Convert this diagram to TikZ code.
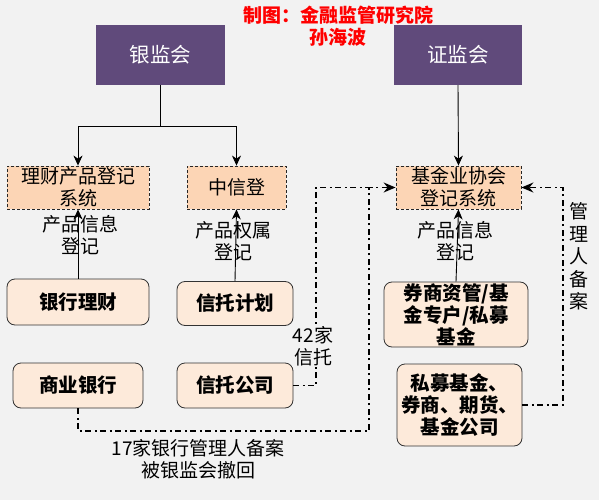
\documentclass[tikz,border=0pt]{standalone}
\usepackage{fontspec}
\setmainfont{Noto Sans CJK SC}
\usetikzlibrary{arrows.meta}
\definecolor{bg}{HTML}{F2F2F2}
\definecolor{purp}{HTML}{604A7B}
\definecolor{peach}{HTML}{FCD5B5}
\definecolor{lightpeach}{HTML}{FDEADA}
\begin{document}
\begin{tikzpicture}[x=1pt,y=-1pt,
 reg/.style={draw=none, fill=purp, text=white, inner sep=0pt, font=\fontsize{20.5}{24}\selectfont},
 sysbox/.style={draw=black!85, fill=peach, dash pattern=on 3pt off 2pt, line width=0.8pt, inner sep=0pt, align=center, font=\fontsize{19}{22}\selectfont},
 ent/.style={draw=black!80, fill=lightpeach, rounded corners=8pt, line width=0.8pt, inner sep=0pt, align=center, font=\bfseries\fontsize{19.5}{22}\selectfont},
 lbl/.style={align=center, font=\fontsize{19}{22}\selectfont, inner sep=1pt},
 solidarrow/.style={draw=black, line width=0.9pt, -{Stealth[length=10pt,width=9pt,inset=3pt]}},
 dasharrow/.style={draw=black, line width=1.6pt, dash pattern=on 6pt off 3.5pt on 2pt off 3.5pt, -{Stealth[length=12pt,width=10pt,inset=4pt]}},
 dashline/.style={draw=black, line width=1.6pt, dash pattern=on 6pt off 3.5pt on 2pt off 3.5pt},
]
\path[fill=bg, use as bounding box] (0,0) rectangle (599,500);

% title
\node[text=red, align=center, font=\bfseries\fontsize{19}{22}\selectfont, inner sep=0pt] (title) at (338,26) {制图：金融监管研究院\\孙海波};

% regulators
\node[reg, minimum width=129pt, minimum height=60pt] (yjh) at (160.5,55) {银监会};
\node[reg, minimum width=128pt, minimum height=60pt] (zjh) at (458,55) {证监会};

% registration systems
\node[sysbox, minimum width=142pt, minimum height=43pt] (lc) at (78,187.5) {理财产品登记\\系统};
\node[sysbox, minimum width=99pt, minimum height=43pt] (zxd) at (236.5,187.5) {中信登};
\node[sysbox, minimum width=125pt, minimum height=43pt] (jj) at (458.5,187.5) {基金业协会\\登记系统};

% entities
\node[ent, minimum width=142pt, minimum height=46pt] (yhlc) at (78,302) {银行理财};
\node[ent, minimum width=116pt, minimum height=44pt] (xtjh) at (235,303.5) {信托计划};
\node[ent, minimum width=130pt, minimum height=45pt] (syyh) at (78,385.5) {商业银行};
\node[ent, minimum width=116pt, minimum height=45pt] (xtgs) at (235,385.5) {信托公司};
\node[ent, minimum width=144pt, minimum height=65pt] (qs) at (456,314.5) {券商资管/基\\金专户/私募\\基金};
\node[ent, minimum width=125pt, minimum height=82pt] (sm) at (459.5,405) {私募基金、\\券商、期货、\\基金公司};

% regulator connectors
\coordinate (br) at (160.5,126);
\draw[line width=0.9pt] (yjh.south) -- (br);
\draw[solidarrow] (br) -| (lc.north);
\draw[solidarrow] (br) -| (zxd.north);
\draw[solidarrow] (zjh.south) -- (jj.north);

% product registration
\draw[solidarrow] (yhlc.north) -- (lc.south);
\draw[solidarrow] (xtjh.north) -- (zxd.south);
\draw[solidarrow] (qs.north) -- (jj.south);
\node[lbl] (l1) at (80,235) {产品信息\\登记};
\node[lbl] (l2) at (233,241) {产品权属\\登记};
\node[lbl] (l3) at (455,241) {产品信息\\登记};

% manager filing (dash-dot)
\coordinate (a1) at (78,431);
\coordinate (a2) at (369,431);
\coordinate (a3) at (369,187.5);
\draw[dasharrow] (syyh.south) -- (a1) -- (a2) -- (a3) -- (jj.west);
\coordinate (b1) at (316,385.5);
\coordinate (b2) at (316,187.5);
\draw[dashline] (xtgs.east) -- (b1) -- (b2) -- (a3);
\coordinate (c1) at (563,405);
\coordinate (c2) at (563,187.5);
\draw[dasharrow] (sm.east) -- (c1) -- (c2) -- (jj.east);

\node[lbl, fill=bg] (l4) at (313,346) {42家\\信托};
\node[lbl, font=\fontsize{19}{22.5}\selectfont] (l5) at (579,256.5) {管\\理\\人\\备\\案};
\node[lbl] (l6) at (198,459) {17家银行管理人备案\\被银监会撤回};
\end{tikzpicture}
\end{document}
